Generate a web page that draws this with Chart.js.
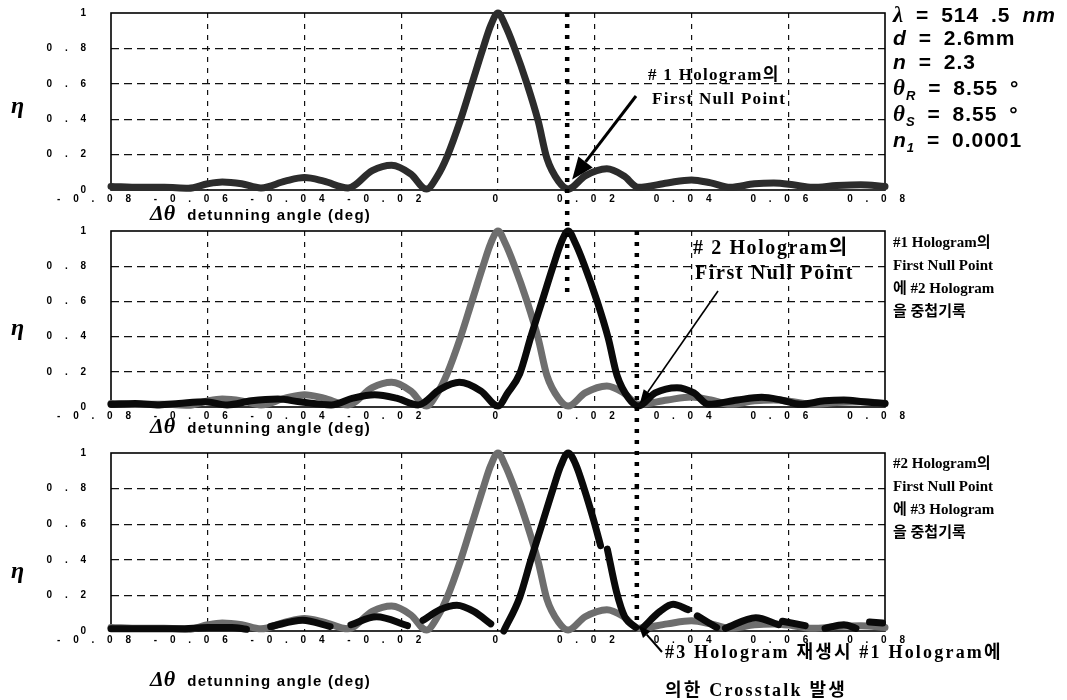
<!DOCTYPE html>
<html>
<head>
<meta charset="utf-8">
<script src="https://cdn.jsdelivr.net/npm/chart.js@4.4.1/dist/chart.umd.min.js"></script>
<style>
  body { margin: 0; background: #fff; width: 1067px; height: 700px; overflow: hidden; position: relative; }
  .panel { position: absolute; left: 0; }
  .panel canvas { display: block; }
  .t { position: absolute; white-space: nowrap; color: #000; line-height: 1; }
  .eta { font: italic bold 24px "Liberation Serif", serif; left: 11px; }
  .axt { left: 150px; }
  .axt i { font: italic bold 22px "Liberation Serif", serif; margin-right: 12px; }
  .axt span { font: bold 15px "Liberation Sans", Arial, sans-serif; letter-spacing: 1.3px; }
  .par { left: 893px; font: bold 21px "Liberation Sans", Arial, sans-serif; letter-spacing: 1px; word-spacing: 5px; }
  .par i { font-style: italic; }
  .par .g { font-family: "Liberation Serif", serif; font-size: 23px; }
  .par sub { font-size: 13px; font-style: italic; }
  .note { font: bold 17px "Liberation Serif", "Noto Sans CJK KR", serif; letter-spacing: 1.3px; }
  .side { left: 893px; font: bold 15px "Liberation Serif", "Noto Sans CJK KR", serif; line-height: 23px; }
  #over { position: absolute; left: 0; top: 0; pointer-events: none; }
</style>
</head>
<body>
<div class="panel" style="top:3px"><canvas id="p1" width="930" height="209"></canvas></div>
<div class="panel" style="top:221px"><canvas id="p2" width="930" height="208"></canvas></div>
<div class="panel" style="top:443px"><canvas id="p3" width="930" height="210"></canvas></div>
<svg id="over" width="1067" height="700"></svg>

<div class="t eta" style="top:92px">η</div>
<div class="t eta" style="top:314px">η</div>
<div class="t eta" style="top:557px">η</div>

<div class="t axt" style="top:200px"><i>Δθ</i><span>detunning angle (deg)</span></div>
<div class="t axt" style="top:413px"><i>Δθ</i><span>detunning angle (deg)</span></div>
<div class="t axt" style="top:666px"><i>Δθ</i><span>detunning angle (deg)</span></div>

<div class="t par" style="top:2px"><i class="g">λ</i> = 514 .5 <i>nm</i></div>
<div class="t par" style="top:26px"><i>d</i> = 2.6mm</div>
<div class="t par" style="top:50px"><i>n</i> = 2.3</div>
<div class="t par" style="top:75px"><i class="g">θ</i><sub>R</sub> = 8.55 °</div>
<div class="t par" style="top:101px"><i class="g">θ</i><sub>S</sub> = 8.55 °</div>
<div class="t par" style="top:128px"><i>n</i><sub>1</sub> = 0.0001</div>

<div class="t note" style="left:648px; top:60px">#&nbsp;1 Hologram의</div>
<div class="t note" style="left:652px; top:89px">First Null Point</div>
<div class="t note" style="left:693px; top:231px; font-size:20px; letter-spacing:1.6px">#&nbsp;2 Hologram의</div>
<div class="t note" style="left:695px; top:261px; font-size:20px; letter-spacing:1.6px">First Null Point</div>

<div class="t side" style="top:231px">#1 Hologram의<br>First Null Point<br>에 #2 Hologram<br>을 중첩기록</div>
<div class="t side" style="top:452px">#2 Hologram의<br>First Null Point<br>에 #3 Hologram<br>을 중첩기록</div>

<div class="t note" style="left:665px; top:637px; font-size:18px; letter-spacing:2.2px">#3 Hologram 재생시 #1 Hologram에</div>
<div class="t note" style="left:665px; top:675px; font-size:18px; letter-spacing:2.2px">의한 Crosstalk 발생</div>

<script>
// tick values and the way they are printed on the figure
const xTicks = [-0.08, -0.06, -0.04, -0.02, 0, 0.02, 0.04, 0.06, 0.08];
const xTickLabels = ['-0.08', '-0.06', '-0.04', '-0.02', '0', '0.02', '0.04', '0.06', '0.08'];
const yTicks = [0, 0.2, 0.4, 0.6, 0.8, 1];
const yTickLabels = ['0', '0.2', '0.4', '0.6', '0.8', '1'];

// #1 hologram, diffraction efficiency vs detuning angle
const holo1X = [-0.080, -0.074, -0.069, -0.064, -0.060, -0.057, -0.053, -0.049, -0.044, -0.040,
  -0.036, -0.031, -0.026, -0.022, -0.018, -0.0148, -0.0125, -0.0105, -0.0077, -0.0054,
  -0.0031, -0.0015, 0.0, 0.0015, 0.0033, 0.006, 0.0083, 0.0101, 0.0125, 0.0145,
  0.018, 0.0225, 0.026, 0.029, 0.035, 0.040, 0.044, 0.048, 0.053, 0.057,
  0.061, 0.065, 0.070, 0.075, 0.080];
const holo1Y = [0.02, 0.015, 0.015, 0.01, 0.035, 0.045, 0.035, 0.012, 0.05, 0.07,
  0.05, 0.012, 0.11, 0.14, 0.09, 0.005, 0.08, 0.19, 0.40, 0.60,
  0.80, 0.93, 1.0, 0.93, 0.81, 0.60, 0.39, 0.18, 0.05, 0.005,
  0.08, 0.12, 0.08, 0.015, 0.04, 0.057, 0.04, 0.015, 0.035, 0.04,
  0.03, 0.015, 0.025, 0.03, 0.02];

// #2 hologram, recorded at the first null of #1 (middle panel)
const holo2X = [-0.080, -0.075, -0.070, -0.066, -0.0605, -0.056, -0.051, -0.0455, -0.041, -0.0345,
  -0.030, -0.0255, -0.021, -0.0165, -0.012, -0.008, -0.0035, 0.0, 0.002, 0.0045,
  0.0068, 0.0091, 0.0114, 0.013, 0.0145, 0.016, 0.0178, 0.0205, 0.0228, 0.0246,
  0.027, 0.029, 0.0325, 0.037, 0.0405, 0.0435, 0.0495, 0.0545, 0.0585, 0.0625,
  0.0675, 0.0715, 0.0755, 0.080];
const holo2Y = [0.015, 0.02, 0.012, 0.02, 0.03, 0.012, 0.035, 0.045, 0.03, 0.012,
  0.05, 0.07, 0.05, 0.012, 0.10, 0.14, 0.09, 0.005, 0.08, 0.19,
  0.40, 0.60, 0.80, 0.93, 1.0, 0.93, 0.81, 0.60, 0.39, 0.18,
  0.05, 0.005, 0.08, 0.11, 0.08, 0.015, 0.04, 0.055, 0.04, 0.015,
  0.035, 0.04, 0.03, 0.02];

// #2 hologram as printed in the bottom panel: the trace is broken into pieces
const holo2bX = [-0.080, -0.066, -0.060, -0.055, -0.052, -0.050,
  -0.047, -0.0404, -0.0347, -0.033,
  -0.0304, -0.0251, -0.0187, -0.017,
  -0.0155, -0.012, -0.0085, -0.005, -0.0015, -0.0005,
  0.0012, 0.0045, 0.0068, 0.0091, 0.0114, 0.013, 0.0145, 0.016, 0.0178, 0.0198, 0.0212, 0.0219,
  0.0226, 0.0245, 0.0262, 0.0285, 0.0292,
  0.030, 0.0335, 0.0362, 0.0393, 0.0402,
  0.0412, 0.0452, 0.046,
  0.047, 0.0533, 0.058, 0.0584,
  0.0588, 0.0635, 0.066,
  0.0676, 0.0715, 0.074, 0.0755,
  0.0768, 0.0795];
const holo2bY = [0.012, 0.012, 0.02, 0.02, 0.01, null,
  0.025, 0.06, 0.025, null,
  0.035, 0.08, 0.03, null,
  0.06, 0.12, 0.145, 0.11, 0.04, null,
  0.0, 0.19, 0.40, 0.60, 0.80, 0.93, 1.0, 0.94, 0.80, 0.62, 0.48, null,
  0.46, 0.22, 0.08, 0.02, null,
  0.02, 0.11, 0.15, 0.12, null,
  0.085, 0.02, null,
  0.015, 0.075, 0.035, null,
  0.055, 0.03, null,
  0.015, 0.035, 0.015, null,
  0.05, 0.045];

const nullPoint1 = 0.0143;   // first null of #1 = centre of #2
const nullPoint2 = 0.0287;   // first null of #2 = where #3 goes

const spaced = s => s.split('').join('\u2003 ');
const pts = (xs, ys) => xs.map((x, i) => ({ x: x, y: ys[i] }));

const framePlugin = {
  id: 'frame',
  beforeDatasetsDraw(chart) {
    const { ctx, chartArea: a } = chart;
    ctx.save();
    ctx.strokeStyle = '#000';
    ctx.lineWidth = 1.6;
    ctx.strokeRect(a.left, a.top, a.right - a.left, a.bottom - a.top);
    ctx.restore();
  }
};

function trace(xs, ys, color, width) {
  return {
    data: pts(xs, ys),
    borderColor: color,
    borderWidth: width,
    pointRadius: 0,
    cubicInterpolationMode: 'monotone',
    spanGaps: false,
    borderCapStyle: 'round',
    borderJoinStyle: 'round',
    clip: 8
  };
}

function makePanel(id, datasets) {
  const tickFont = { family: 'Liberation Sans', size: 10, weight: 'bold' };
  return new Chart(document.getElementById(id), {
    type: 'line',
    data: { datasets },
    options: {
      responsive: false,
      animation: false,
      events: [],
      layout: { padding: { top: 10, right: 45, left: 0, bottom: 0 } },
      plugins: { legend: { display: false }, tooltip: { enabled: false } },
      scales: {
        x: {
          type: 'linear', min: -0.08, max: 0.08,
          afterBuildTicks: s => { s.ticks = xTicks.map(v => ({ value: v })); },
          afterFit: s => { s.height = 22; },
          grid: {
            color: c => (c.tick && Math.abs(Math.abs(c.tick.value) - 0.08) < 1e-9) ? 'rgba(0,0,0,0)' : '#111',
            lineWidth: 1.2, drawTicks: false
          },
          border: { display: false, dash: [5, 6] },
          ticks: {
            autoSkip: false, maxRotation: 0, minRotation: 0, align: 'end', labelOffset: 20, padding: 3,
            color: '#000', font: tickFont,
            callback: (v, i) => xTickLabels[i] === '0' ? '0\u2003\u2003' : spaced(xTickLabels[i])
          }
        },
        y: {
          min: 0, max: 1,
          afterBuildTicks: s => { s.ticks = yTicks.map(v => ({ value: v })); },
          afterFit: s => { s.width = 111; },
          grid: {
            color: c => (c.tick && (c.tick.value === 0 || c.tick.value === 1)) ? 'rgba(0,0,0,0)' : '#111',
            lineWidth: 1.2, drawTicks: false
          },
          border: { display: false, dash: [8, 5] },
          ticks: {
            padding: 0, color: '#000', font: tickFont,
            // trailing spaces keep the printed labels about 25px off the frame
            callback: (v, i) => spaced(yTickLabels[i]) + '\u2003\u2003\u2002'
          }
        }
      }
    },
    plugins: [framePlugin]
  });
}

const ch1 = makePanel('p1', [trace(holo1X, holo1Y, '#2c2c2c', 7)]);
const ch2 = makePanel('p2', [
  trace(holo2X, holo2Y, '#0a0a0a', 7),
  trace(holo1X, holo1Y, '#6e6e6e', 7)
]);
const ch3 = makePanel('p3', [
  trace(holo2bX, holo2bY, '#0a0a0a', 7),
  trace(holo1X, holo1Y, '#6e6e6e', 7)
]);

// dotted guide lines and arrows on top of the three panels
const offs = [3, 221, 443];
const svg = document.getElementById('over');
const NS = 'http://www.w3.org/2000/svg';
function el(name, attrs) {
  const e = document.createElementNS(NS, name);
  for (const k in attrs) e.setAttribute(k, attrs[k]);
  svg.appendChild(e);
  return e;
}
function px(ch, v) { return ch.scales.x.getPixelForValue(v); }
function py(ch, i, v) { return offs[i] + ch.scales.y.getPixelForValue(v); }

const xA = px(ch1, nullPoint1);
el('line', { x1: xA, y1: py(ch1, 0, 1), x2: xA, y2: py(ch2, 1, 0.62), stroke: '#000', 'stroke-width': 4.5, 'stroke-dasharray': '4 7' });
const xB = px(ch2, nullPoint2);
el('line', { x1: xB, y1: py(ch2, 1, 1), x2: xB, y2: py(ch3, 2, 0.02), stroke: '#000', 'stroke-width': 4.5, 'stroke-dasharray': '4 7' });

function arrow(x1, y1, x2, y2, w, len, half) {
  const a = Math.atan2(y2 - y1, x2 - x1);
  const bx = x2 - len * Math.cos(a), by = y2 - len * Math.sin(a);
  el('line', { x1, y1, x2: bx, y2: by, stroke: '#000', 'stroke-width': w });
  const p = [[x2, y2],
    [bx + half * Math.sin(a), by - half * Math.cos(a)],
    [bx - half * Math.sin(a), by + half * Math.cos(a)]];
  el('polygon', { points: p.map(q => q.join(',')).join(' '), fill: '#000' });
}
arrow(636, 96, xA + 5, py(ch1, 0, 0.06), 3, 22, 9);
arrow(718, 291, xB + 3, py(ch2, 1, 0.02), 1.6, 14, 5);
arrow(662, 652, xB + 2, py(ch3, 2, 0.03), 2, 12, 5);
</script>
</body>
</html>
